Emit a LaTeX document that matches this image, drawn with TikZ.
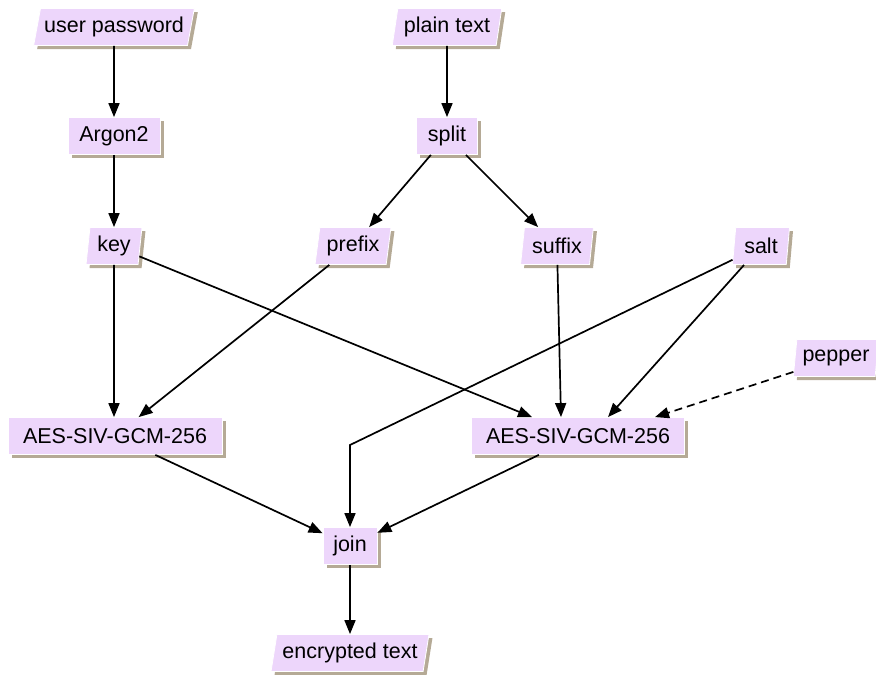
\documentclass[tikz,border=0pt]{standalone}
\usepackage{fontspec}
\setmainfont{Liberation Sans}
\usetikzlibrary{shapes.geometric,shadows,arrows.meta,calc}
\definecolor{boxfill}{HTML}{EDD6FB}
\definecolor{shadowc}{HTML}{B5AA96}
\tikzset{
  base/.style={fill=boxfill, draw=white, line width=0.8pt, inner xsep=0pt, inner ysep=0pt,
    minimum height=37pt, font=\fontsize{21.5}{25}\selectfont,
    general shadow={shadow xshift=3.5pt, shadow yshift=-3.5pt, fill=shadowc, draw=none}},
  box/.style={base, rectangle, minimum width=#1},
  para/.style 2 args={base, trapezium, trapezium stretches=true,
    trapezium left angle={atan(37/#2)}, trapezium right angle={180-atan(37/#2)},
    minimum width=#1},
  conn/.style={line width=1.7pt, -{Triangle[length=14pt,width=11pt]}},
}
\begin{document}
\begin{tikzpicture}[x=1pt,y=-1pt]
\useasboundingbox (0,0) rectangle (876,675);
\node[para={161}{12}] (pw) at (114,27) {user password};
\node[para={110}{9}] (pt) at (447,27) {plain text};
\node[box=92] (argon) at (114,136) {Argon2};
\node[box=61] (split) at (447,136) {split};
\node[para={56}{5}] (key) at (114,246) {key};
\node[para={76}{7}] (prefix) at (353,246) {prefix};
\node[para={73}{7}] (suffix) at (557,246) {suffix};
\node[para={57}{5}] (salt) at (761,246) {salt};
\node[para={86}{7}] (pepper) at (836,358) {pepper};
\node[box=214] (aesl) at (115,436) {AES-SIV-GCM-256};
\node[box=213] (aesr) at (578,436) {AES-SIV-GCM-256};
\node[box=54] (join) at (350,546) {join};
\node[para={158}{10}] (enc) at (350,653) {encrypted text};
\coordinate (bend) at (350,445);

\draw[conn] (pw) -- (argon);
\draw[conn] (argon) -- (key);
\draw[conn] (pt) -- (split);
\draw[conn] (split) -- (prefix);
\draw[conn] (split) -- (suffix);
\draw[conn] (key) -- ([xshift=-1pt]aesl.north);
\draw[conn] (prefix) -- (aesl);
\draw[conn] (key) -- (aesr);
\draw[conn] (suffix) -- ([xshift=-17pt]aesr.north);
\draw[conn] (salt) -- ([xshift=30pt]aesr.north);
\draw[conn, dashed, dash pattern=on 8pt off 5pt] (pepper) -- ([xshift=77pt]aesr.north);
\draw[conn] (salt) -- (bend) -- (join);
\draw[conn] (aesl) -- (join);
\draw[conn] (aesr) -- (join);
\draw[conn] (join) -- (enc);
\end{tikzpicture}
\end{document}
